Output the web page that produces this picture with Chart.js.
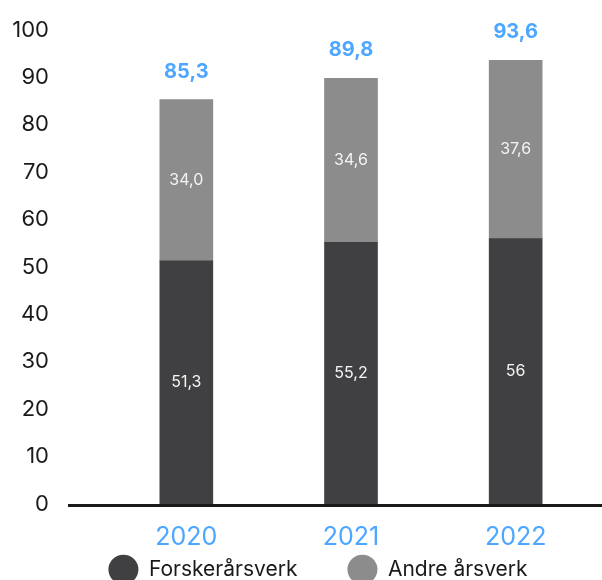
<!DOCTYPE html>
<html>
<head>
<meta charset="utf-8">
<script src="https://cdn.jsdelivr.net/npm/chart.js@4/dist/chart.umd.min.js"></script>
<style>
html,body{margin:0;padding:0;background:#fff;overflow:hidden;}
#wrap{width:602px;height:580px;overflow:hidden;}
#c{display:block;}
</style>
</head>
<body>
<div id="wrap"><canvas id="c" width="602" height="643"></canvas></div>
<script>
const categories = ["2020", "2021", "2022"];
const forskerValues = [51.3, 55.2, 56];
const andreValues = [34.0, 34.6, 37.6];
const totalValues = [85.3, 89.8, 93.6];
const forskerLabels = ["51,3", "55,2", "56"];
const andreLabels = ["34,0", "34,6", "37,6"];
const totalLabels = ["85,3", "89,8", "93,6"];
const seriesNames = ["Forskerårsverk", "Andre årsverk"];

const FONT = "Inter, 'DejaVu Sans', sans-serif";
const BLUE = "#4da6ff";
const DARK = "#404042";
const GREY = "#8c8c8d";

const labelPlugin = {
  id: "labels",
  afterLayout(chart) {
    const lg = chart.legend;
    if (lg) {
      lg.top -= 53; lg.bottom -= 53;
      lg.left += 19; lg.right += 19;
    }
  },
  afterDatasetsDraw(chart) {
    const ctx = chart.ctx;
    ctx.save();
    ctx.textAlign = "center";
    ctx.textBaseline = "middle";
    const texts = [forskerLabels, andreLabels];
    chart.data.datasets.forEach((ds, di) => {
      const meta = chart.getDatasetMeta(di);
      meta.data.forEach((el, i) => {
        ctx.fillStyle = "#f4f4f4";
        ctx.font = "400 16px " + FONT;
        ctx.fillText(texts[di][i], el.x, (el.y + el.base) / 2);
      });
    });
    const top = chart.getDatasetMeta(1);
    top.data.forEach((el, i) => {
      ctx.fillStyle = BLUE;
      ctx.font = "700 20px " + FONT;
      ctx.fillText(totalLabels[i], el.x, el.y - 28);
    });
    const y = chart.scales.y.getPixelForValue(0);
    ctx.strokeStyle = "#1a1a1a";
    ctx.lineWidth = 3;
    ctx.beginPath();
    ctx.moveTo(68, y + 1.5);
    ctx.lineTo(602, y + 1.5);
    ctx.stroke();
    ctx.restore();
  }
};

new Chart(document.getElementById("c"), {
  type: "bar",
  data: {
    labels: categories,
    datasets: [
      { label: seriesNames[0], data: forskerValues, backgroundColor: DARK, barThickness: 53 },
      { label: seriesNames[1], data: andreValues, backgroundColor: GREY, barThickness: 53 }
    ]
  },
  options: {
    responsive: false,
    animation: false,
    layout: { padding: { top: 30, right: 4, left: 0, bottom: 0 } },
    plugins: {
      tooltip: { enabled: false },
      legend: {
        position: "bottom",
        labels: {
          usePointStyle: true,
          pointStyle: "circle",
          pointStyleWidth: 30,
          boxWidth: 30,
          boxHeight: 30,
          padding: 50,
          color: "#1a1a1a",
          font: { family: FONT, size: 21 }
        }
      }
    },
    scales: {
      x: {
        stacked: true,
        grid: { display: false },
        border: { display: false },
        ticks: { color: BLUE, font: { family: FONT, size: 25 }, padding: 10 }
      },
      y: {
        stacked: true,
        min: 0,
        max: 100,
        grid: { display: false },
        border: { display: false },
        afterFit(scale) { scale.width = 104; scale.paddingTop = 0; scale.paddingBottom = 0; },
        ticks: {
          stepSize: 10,
          padding: 47,
          color: "#1a1a1a",
          font: { family: FONT, size: 22 }
        }
      }
    }
  },
  plugins: [labelPlugin]
});
</script>
</body>
</html>
